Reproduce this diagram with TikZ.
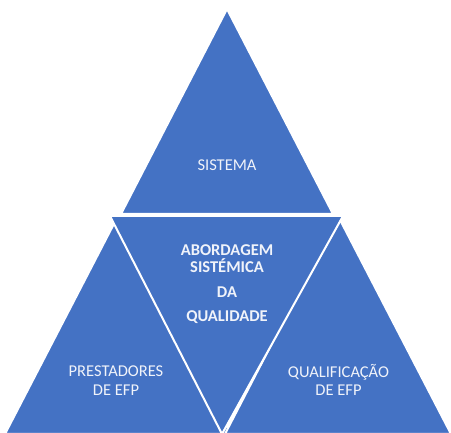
\documentclass[tikz,border=0pt]{standalone}
\usepackage{fontspec}
\setmainfont{Carlito}
\definecolor{officeblue}{RGB}{68,114,196}
\definecolor{labelwhite}{RGB}{240,243,250}

\begin{document}
\begin{tikzpicture}[x=1pt, y=-1pt,
	tri/.style={fill=officeblue, draw=white, line width=2pt},
	lbl/.style={text=labelwhite, anchor=base, font=\fontsize{16.5}{18}\selectfont},
	blbl/.style={lbl, font=\bfseries\fontsize{16.5}{18}\selectfont}]

			\useasboundingbox (0,0) rectangle (451,433);

			% the three corner triangles
			\draw[tri] (118,216)--(5,434)--(231,434)--cycle; 
			\draw[tri] (338,216)--(225,434)--(451,434)--cycle; 
			\draw[tri] (227,9)--(121,214)--(333,214)--cycle; 

			% the inverted one in the middle
			\draw[tri] (110,216)--(343,216)--(222,434)--cycle; 

			\node[lbl] (sistema) at (227,171) {SISTEMA};

			\node[blbl] (abordagem) at (227,256) {ABORDAGEM};
			\node[blbl] (sistemica) at (227,273) {SISTÉMICA};
			\node[blbl] (da) at (227,298) {DA};
			\node[blbl] (qualidade) at (227,322) {QUALIDADE};

			\node[lbl] (prestadores) at (116,377) {PRESTADORES};
			\node[lbl] (prestefp) at (116,395.5) {DE EFP};

			\node[lbl] (qualificacao) at (338.5,378) {QUALIFICAÇÃO};
			\node[lbl] (qualifefp) at (338.5,395.5) {DE EFP};

\end{tikzpicture}
\end{document}
